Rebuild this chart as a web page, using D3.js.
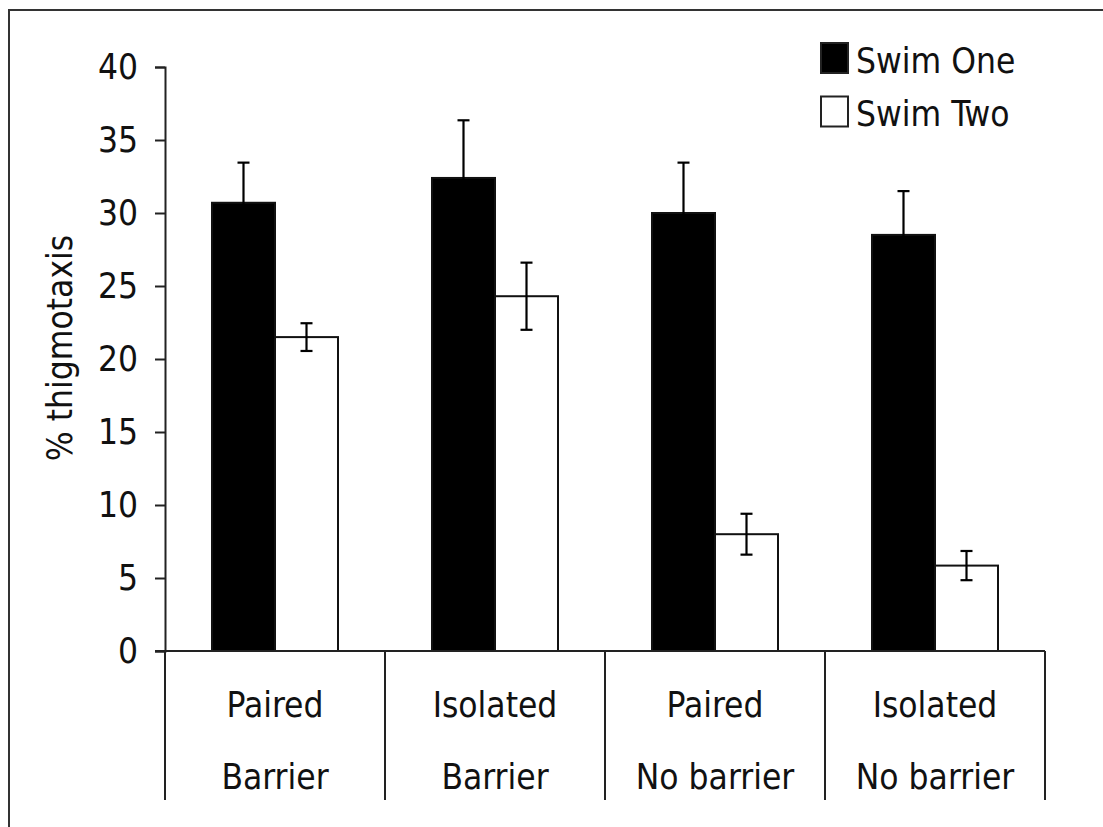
<!DOCTYPE html>
<html>
<head>
<meta charset="utf-8">
<script src="https://cdn.jsdelivr.net/npm/d3@7"></script>
<style>
  html, body { margin: 0; padding: 0; background: #fff; }
  svg { display: block; }
  text { font-family: "DejaVu Sans Condensed", "DejaVu Sans", sans-serif; font-stretch: condensed; fill: #111; }
</style>
</head>
<body>
<svg id="chart" width="1103" height="827"></svg>
<script>
// Thigmotaxis by housing condition, first vs second swim (mean ± SE)
const categories = ["Paired Barrier", "Isolated Barrier", "Paired No barrier", "Isolated No barrier"];
const categoryLines = [["Paired", "Barrier"], ["Isolated", "Barrier"], ["Paired", "No barrier"], ["Isolated", "No barrier"]];
const series = ["Swim One", "Swim Two"];
const swimOne = [30.7, 32.4, 30.0, 28.5];
const swimOneErr = [2.75, 3.95, 3.45, 3.0];
const swimTwo = [21.5, 24.3, 8.0, 5.85];
const swimTwoErr = [0.95, 2.3, 1.4, 1.0];
const yTicks = [0, 5, 10, 15, 20, 25, 30, 35, 40];

const svg = d3.select("#chart");
const W = 1103, H = 827;
const margin = { left: 165, right: 58, top: 67, bottom: 176 };
const plotBottom = H - margin.bottom;
const labelDepth = 149;

// outer frame (only its top and left edges fall inside the page)
svg.append("rect")
  .attr("x", 9).attr("y", 10)
  .attr("width", W + 20).attr("height", H + 20)
  .attr("fill", "none").attr("stroke", "#333").attr("stroke-width", 2);

const x0 = d3.scaleBand().domain(categories)
  .range([margin.left, W - margin.right]).paddingInner(0).paddingOuter(0);
const x1 = d3.scaleBand().domain(series)
  .range([0, x0.bandwidth()]).paddingInner(0).paddingOuter(0.746);
const y = d3.scaleLinear().domain([0, 40]).range([plotBottom, margin.top]);

const rows = categories.map((c, i) => ({
  cat: c,
  vals: [
    { s: series[0], v: swimOne[i], e: swimOneErr[i], fill: "#000" },
    { s: series[1], v: swimTwo[i], e: swimTwoErr[i], fill: "#fff" }
  ]
}));

// bars
const g = svg.append("g");
const groups = g.selectAll("g.cat").data(rows).join("g")
  .attr("class", "cat")
  .attr("transform", d => `translate(${x0(d.cat)},0)`);

groups.selectAll("rect").data(d => d.vals).join("rect")
  .attr("x", d => x1(d.s))
  .attr("y", d => y(d.v))
  .attr("width", x1.bandwidth())
  .attr("height", d => y(0) - y(d.v))
  .attr("fill", d => d.fill)
  .attr("stroke", "#111").attr("stroke-width", 2);

// error bars
const cap = 6;
const eb = groups.selectAll("g.err").data(d => d.vals).join("g").attr("class", "err")
  .attr("stroke", "#000").attr("stroke-width", 2.2);
eb.append("line")
  .attr("x1", d => x1(d.s) + x1.bandwidth() / 2).attr("x2", d => x1(d.s) + x1.bandwidth() / 2)
  .attr("y1", d => y(d.v - d.e)).attr("y2", d => y(d.v + d.e));
eb.append("line")
  .attr("x1", d => x1(d.s) + x1.bandwidth() / 2 - cap).attr("x2", d => x1(d.s) + x1.bandwidth() / 2 + cap)
  .attr("y1", d => y(d.v + d.e)).attr("y2", d => y(d.v + d.e));
eb.append("line")
  .attr("x1", d => x1(d.s) + x1.bandwidth() / 2 - cap).attr("x2", d => x1(d.s) + x1.bandwidth() / 2 + cap)
  .attr("y1", d => y(d.v - d.e)).attr("y2", d => y(d.v - d.e));

// y axis
const yAxis = svg.append("g")
  .attr("transform", `translate(${margin.left},0)`)
  .call(d3.axisLeft(y).tickValues(yTicks).tickSize(10).tickPadding(17).tickSizeOuter(10));
yAxis.attr("font-family", null);
yAxis.select(".domain").attr("stroke", "#222").attr("stroke-width", 2);
yAxis.selectAll(".tick line").attr("stroke", "#222").attr("stroke-width", 2);
yAxis.selectAll(".tick text").attr("font-size", 35).attr("fill", "#111");

// x axis baseline and category table
svg.append("line")
  .attr("x1", margin.left - 10).attr("x2", W - margin.right)
  .attr("y1", plotBottom).attr("y2", plotBottom)
  .attr("stroke", "#222").attr("stroke-width", 2);

const bounds = categories.map(c => x0(c)).concat([x0(categories[categories.length - 1]) + x0.bandwidth()]);
svg.selectAll("line.divider").data(bounds).join("line")
  .attr("class", "divider")
  .attr("x1", d => d).attr("x2", d => d)
  .attr("y1", plotBottom).attr("y2", plotBottom + labelDepth)
  .attr("stroke", "#222").attr("stroke-width", 2);

const labels = svg.selectAll("text.cat").data(categories).join("text")
  .attr("class", "cat")
  .attr("text-anchor", "middle")
  .attr("font-size", 35);
labels.each(function (c, i) {
  const t = d3.select(this);
  const cx = x0(c) + x0.bandwidth() / 2;
  categoryLines[i].forEach((line, j) => {
    t.append("tspan").attr("x", cx).attr("y", plotBottom + 66 + j * 72).text(line);
  });
});

// y axis title
svg.append("text")
  .attr("transform", `translate(72,348) rotate(-90)`)
  .attr("text-anchor", "middle")
  .attr("font-size", 35)
  .text("% thigmotaxis");

// legend
const legend = svg.append("g").attr("transform", "translate(821,43)");
const legendFills = ["#000", "#fff"];
series.forEach((s, i) => {
  const row = legend.append("g").attr("transform", `translate(0,${i * 53.5})`);
  row.append("rect").attr("x", 0).attr("y", 0).attr("width", 27).attr("height", 30)
    .attr("fill", legendFills[i]).attr("stroke", "#222").attr("stroke-width", 2);
  row.append("text").attr("x", 35).attr("y", 29.5).attr("font-size", 35).text(s);
});
</script>
</body>
</html>
